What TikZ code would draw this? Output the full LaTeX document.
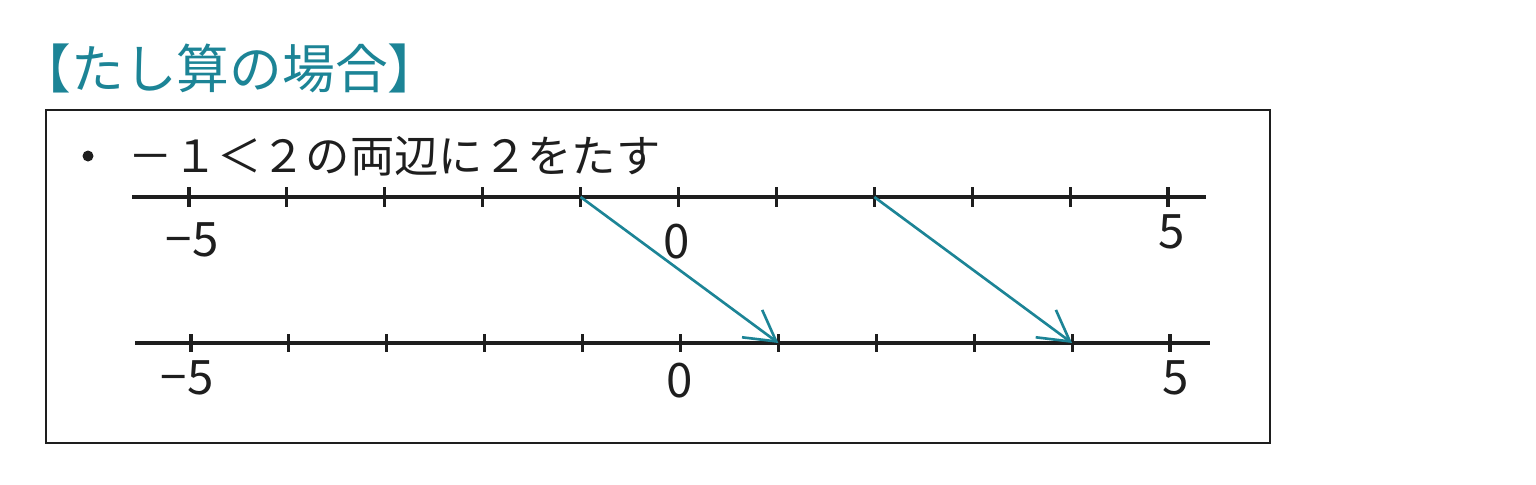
\documentclass[tikz,border=0pt]{standalone}
\usepackage{fontspec}
\setmainfont{Noto Sans CJK JP}
\newfontfamily\jpfont{Noto Sans CJK JP}
\usetikzlibrary{arrows.meta,calc}
\definecolor{tealc}{RGB}{28,132,150}
\definecolor{inkc}{RGB}{30,30,30}
\tikzset{
  numline/.style={line width=0.9pt, draw=inkc},
  tickmark/.style={line width=0.9pt, draw=inkc},
  numlabel/.style={font=\jpfont\fontsize{13.5pt}{13.5pt}\selectfont, text=inkc, inner sep=0pt},
  shiftarrow/.style={line width=0.75pt, draw=tealc, -{Straight Barb[length=3mm,width=3.4mm]}},
  frame/.style={line width=0.6pt, draw=inkc}
}
\begin{document}
\begin{tikzpicture}[x=0.01cm, y=-0.01cm]
\useasboundingbox (0,0) rectangle (1536,484);
% title
\node[anchor=west, inner sep=0pt, text=tealc, font=\jpfont\fontsize{15pt}{15pt}\selectfont] (title) at (18,68) {【たし算の場合】};
% frame
\draw[frame] (46,110) rectangle (1270,443);
% bullet
\fill[inkc] (88,156) circle (5.5);
\node[anchor=west, inner sep=0pt, text=inkc, font=\jpfont\fontsize{12.6pt}{12.6pt}\selectfont] (stmt) at (128,156) {－１＜２の両辺に２をたす};
% top number line
\coordinate (tl) at (132,197);
\coordinate (tr) at (1206,197);
\draw[numline] (tl) -- (tr);
\foreach \i in {0,...,10} {
  \coordinate (t\i) at ({189+97.9*\i},197);
  \draw[tickmark] ($(t\i)+(0,-10)$) -- ($(t\i)+(0,10)$);
}
\node[numlabel] (tlm5) at (192,240) {−5};
\node[numlabel] (tl0) at (677,242) {0};
\node[numlabel] (tl5) at (1172,232) {5};
% bottom number line
\coordinate (bl) at (135,343);
\coordinate (br) at (1210,343);
\draw[numline] (bl) -- (br);
\foreach \i in {0,...,10} {
  \coordinate (b\i) at ({191+97.9*\i},343);
  \draw[tickmark] ($(b\i)+(0,-9)$) -- ($(b\i)+(0,9)$);
}
\node[numlabel] (blm5) at (187,378) {−5};
\node[numlabel] (bl0) at (680,381) {0};
\node[numlabel] (bl5) at (1176,378) {5};
% arrows
\draw[shiftarrow] (t4) -- (b6);
\draw[shiftarrow] (t7) -- (b9);
\end{tikzpicture}
\end{document}
